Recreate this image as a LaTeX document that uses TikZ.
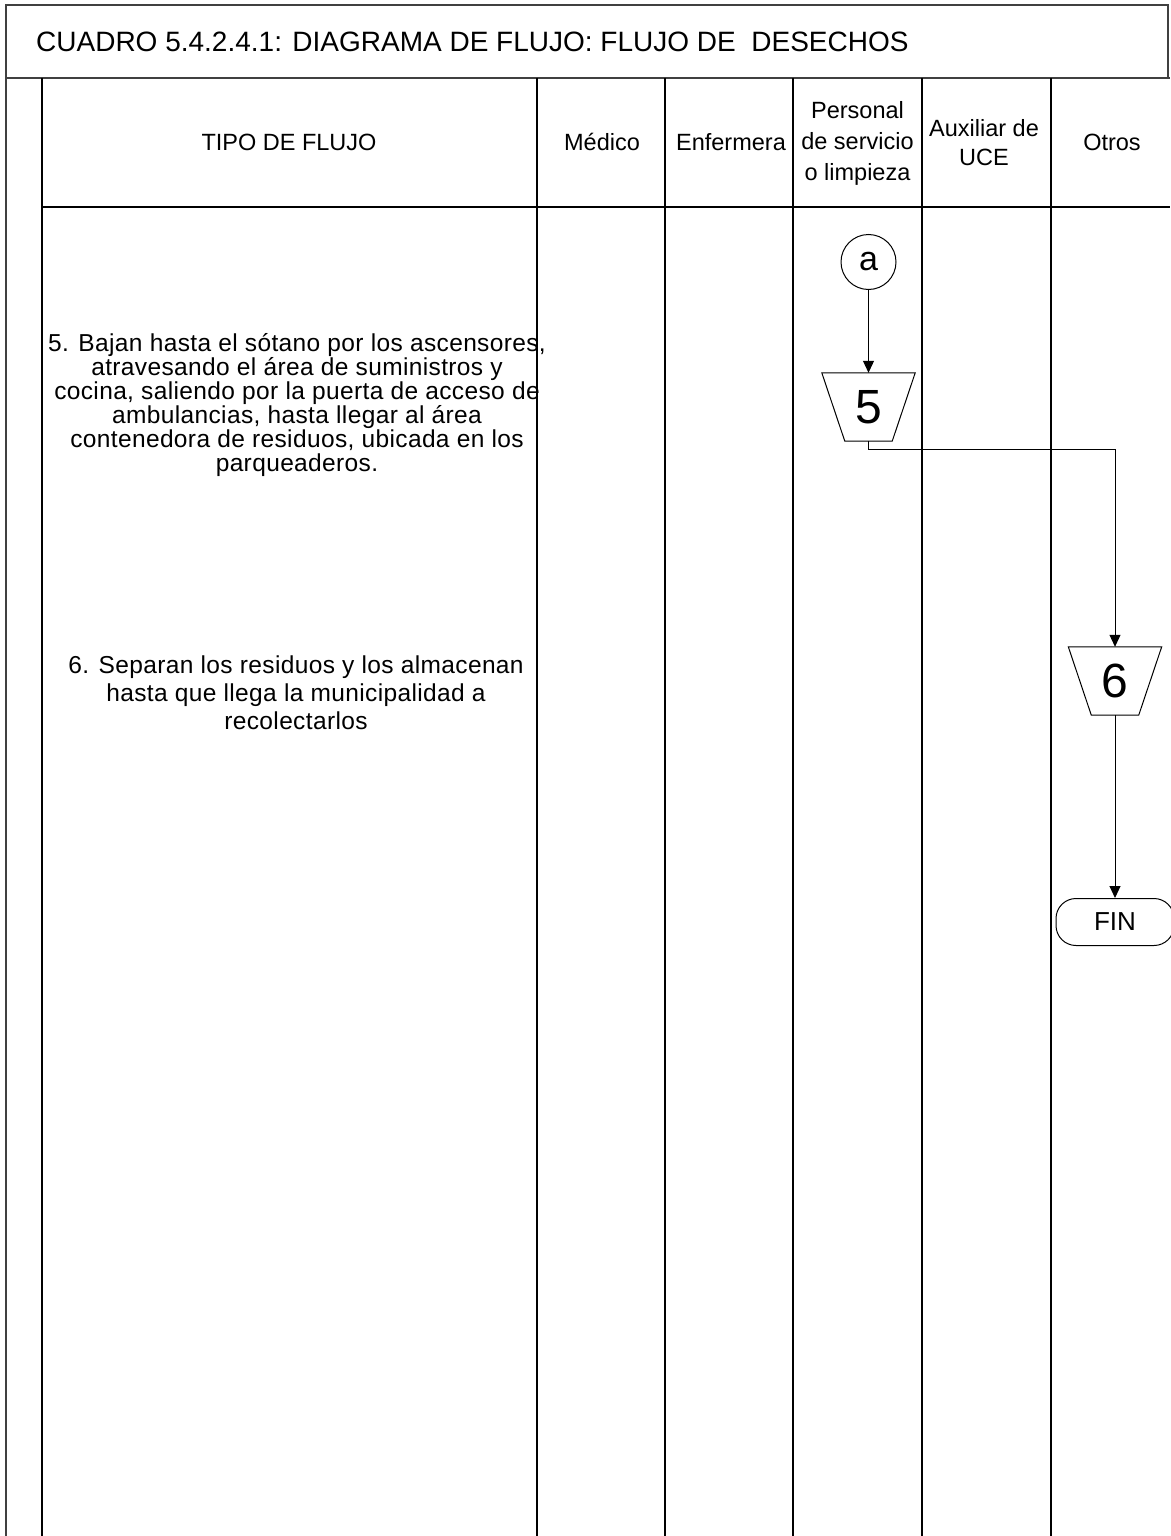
\documentclass[tikz,border=0pt]{standalone}
\usepackage{fontspec}
\setmainfont{Liberation Sans}
\newfontfamily\bodyfont{Liberation Sans}[LetterSpace=1.5]
\usetikzlibrary{arrows.meta}
\begin{document}
\begin{tikzpicture}[x=1pt,y=-1pt,
  frame/.style={line width=2pt,draw=black!75},
  grid/.style={line width=1.3pt,draw=black},
  conn/.style={line width=1pt,draw=black},
  arr/.style={conn,-{Triangle[length=12pt,width=11pt]}},
  hdr/.style={inner sep=0pt,align=center,font=\fontsize{23.5}{31}\selectfont},
  hdrb/.style={inner sep=0pt,align=center,font=\fontsize{23.5}{29}\selectfont},
  bodyA/.style={inner sep=0pt,align=center,font=\bodyfont\fontsize{24.5}{24}\selectfont},
  bodyB/.style={inner sep=0pt,align=center,font=\bodyfont\fontsize{24.5}{28}\selectfont},
  big/.style={inner sep=0pt,font=\fontsize{48}{54}\selectfont}
]
\useasboundingbox (0,0) rectangle (1170,1536);
% title box and frame
\draw[frame] (1168,78) -- (1168,5) -- (6,5) -- (6,1536);
\draw[frame] (6,78) -- (1170,78);
\node[inner sep=0pt,anchor=base west,font=\fontsize{28}{32}\selectfont] (title) at (36,52)
  {CUADRO 5.4.2.4.1: DIAGRAMA DE FLUJO: FLUJO DE\ \ DESECHOS};
% grid
\draw[grid] (42,78) -- (42,1536);
\draw[grid] (42,207) -- (1170,207);
\foreach \x in {537,665,793,922,1051}{\draw[grid] (\x,78) -- (\x,1536);}
% header texts
\node[hdr,anchor=base] (h0) at (289,150.5) {TIPO DE FLUJO};
\node[hdr,anchor=base] (h1) at (602,150.5) {Médico};
\node[hdr,anchor=base] (h2) at (731,150.5) {Enfermera};
\node[hdr,anchor=north] (h3) at (857.5,101.5) {Personal\\de servicio\\o limpieza};
\node[hdrb,anchor=north] (h4) at (984,119.5) {Auxiliar de\\UCE};
\node[hdr,anchor=base] (h5) at (1112,150.5) {Otros};
% body texts
\node[bodyA,anchor=north] (s5) at (297,333)
  {5. Bajan hasta el sótano por los ascensores,\\
   atravesando el área de suministros y\\
   cocina, saliendo por la puerta de acceso de\\
   ambulancias, hasta llegar al área\\
   contenedora de residuos, ubicada en los\\
   parqueaderos.};
\node[bodyB,anchor=north] (s6) at (296,656)
  {6. Separan los residuos y los almacenan\\
   hasta que llega la municipalidad a\\
   recolectarlos};
% flow symbols
\node[circle,draw,conn,minimum size=55pt,inner sep=0pt,font=\fontsize{34}{38}\selectfont] (a) at (868.5,262) {a};
\node[big,minimum width=93pt,minimum height=68pt] (t5) at (868.5,407) {5};
\draw[conn] (t5.north west) -- (t5.north east) -- ([xshift=-23pt]t5.south east) -- ([xshift=23pt]t5.south west) -- cycle;
\node[big,minimum width=93pt,minimum height=68pt] (t6) at (1115,681) {6};
\draw[conn] (t6.north west) -- (t6.north east) -- ([xshift=-23pt]t6.south east) -- ([xshift=23pt]t6.south west) -- cycle;
\node[draw,conn,rounded corners=20pt,minimum width=118pt,minimum height=47pt,inner sep=0pt,
      font=\fontsize{26}{30}\selectfont] (fin) at (1115,922) {FIN};
% connectors
\draw[arr] (a.south) -- (t5.north);
\draw[arr] (t5.south) -- ++(0,8) -| (t6.north);
\draw[arr] (t6.south) -- (fin.north);
\end{tikzpicture}
\end{document}
